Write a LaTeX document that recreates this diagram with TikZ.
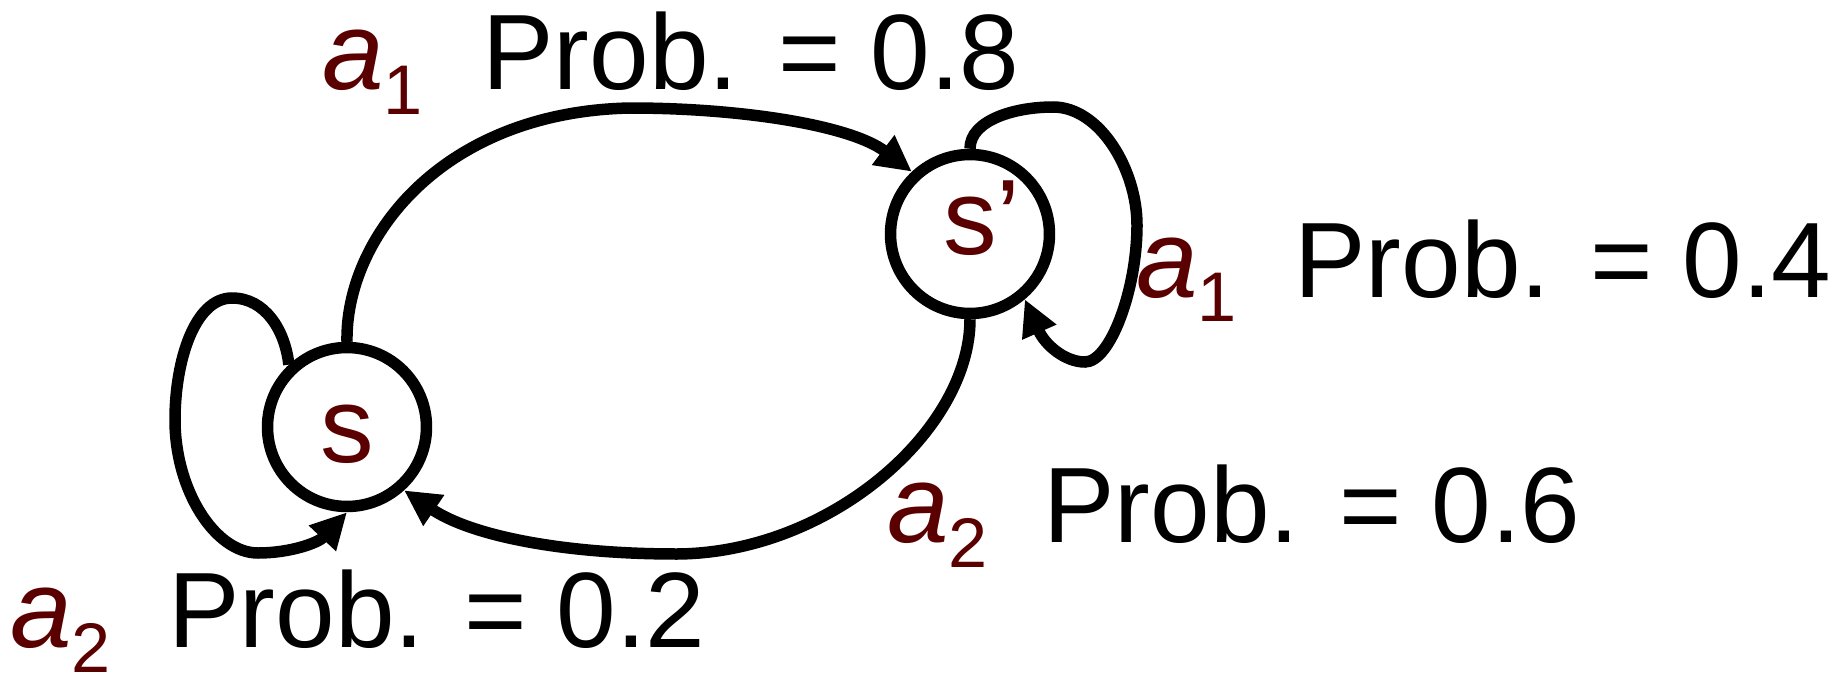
\documentclass[tikz,border=0pt]{standalone}
\usepackage{fontspec}
\setmainfont{Liberation Sans}
\usetikzlibrary{arrows.meta}
\definecolor{StateRed}{HTML}{5A0000}
\tikzset{
  statenode/.style={
    circle,
    draw=black,
    line width=0.23cm,
    minimum size=3.18cm,
    inner sep=0pt,
    text depth=0pt,
    font=\fontsize{61}{61}\selectfont,
    text=StateRed,
  },
  flow/.style={
    -{Triangle[length=0.72cm,width=0.7cm]},
    line width=0.23cm,
    draw=black,
  },
  actlabel/.style={
    anchor=base west,
    inner sep=0pt,
    text=StateRed,
    font=\itshape\fontsize{63}{63}\selectfont,
  },
  problabel/.style={
    anchor=base west,
    inner sep=0pt,
    font=\fontsize{61}{61}\selectfont,
  }
}
\newcommand{\actsub}[1]{\lower0.5cm\hbox{\normalfont\fontsize{40}{40}\selectfont #1}}

\begin{document}
\begin{tikzpicture}[x=0.02cm,y=-0.02cm]
  \useasboundingbox (0,0) rectangle (1839,686);

  \node[statenode, text height=1.42cm] (s) at (347,427) {s};
  \node[statenode, text height=0.84cm] (s2) at (970,234) {s\rlap{’}};

  % transitions between the two states
  \draw[flow] (s.north) .. controls (345,240) and (440,112) .. (630,108)
    .. controls (740,108) and (850,125) .. (s2.133);
  \draw[flow] (s2.south) .. controls (970,430) and (830,553) .. (677,554)
    .. controls (560,554) and (470,535) .. (s.-48);

  % self loops
  \draw[flow] (s.133) .. controls (285,330) and (265,298) .. (232,298)
    .. controls (195,298) and (175,360) .. (175,420)
    .. controls (175,490) and (215,553) .. (258,553)
    .. controls (290,553) and (318,543) .. (s.south);
  \draw[flow] (s2.north) .. controls (970,120) and (1015,107) .. (1053,107)
    .. controls (1100,107) and (1137,170) .. (1137,225)
    .. controls (1137,290) and (1110,362) .. (1085,362)
    .. controls (1065,362) and (1045,345) .. (s2.-50);

  % edge labels
  \node[actlabel] (act08) at (322,90) {a\actsub{1}};
  \node[problabel] (prob08) at (482,90) {Prob. = 0.8};
  \node[actlabel] (act04) at (1136,297) {a\actsub{1}};
  \node[problabel] (prob04) at (1294,297) {Prob. = 0.4};
  \node[actlabel] (act06) at (887,542) {a\actsub{2}};
  \node[problabel] (prob06) at (1043,542) {Prob. = 0.6};
  \node[actlabel] (act02) at (10,647) {a\actsub{2}};
  \node[problabel] (prob02) at (168,647) {Prob. = 0.2};
\end{tikzpicture}
\end{document}
